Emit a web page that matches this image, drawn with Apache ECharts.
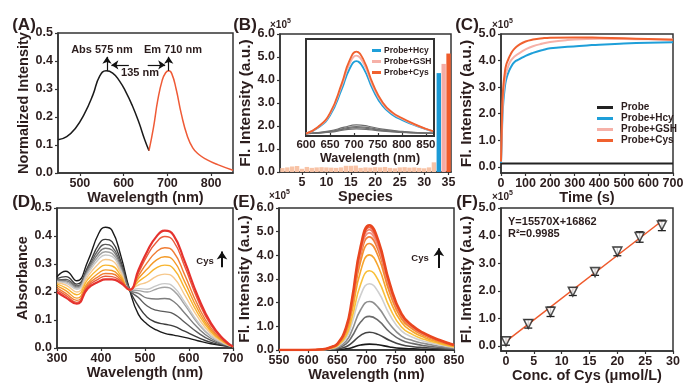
<!DOCTYPE html>
<html><head><meta charset="utf-8">
<script src="https://cdn.jsdelivr.net/npm/echarts@6.0.0/dist/echarts.min.js"></script>
<style>html,body{margin:0;padding:0;background:#fff}#c{width:700px;height:387px}</style>
</head><body><div id="c"></div>
<script>
// ---------- Panel A: normalized absorption / emission ----------
const absWl  = [450,470,490,510,530,545,560,575,590,605,620,635,648,658];
const absVal = [0.119,0.13,0.16,0.21,0.28,0.345,0.365,0.357,0.33,0.29,0.24,0.18,0.12,0.08];
const emWl   = [658,668,678,688,696,703,710,720,732,745,758,772,790,815,850];
const emVal  = [0.08,0.16,0.26,0.33,0.358,0.365,0.355,0.3,0.21,0.135,0.09,0.066,0.048,0.03,0.01];
const aTicksX = [500,600,700,800];
const aTicksY = [0,0.1,0.2,0.3,0.4,0.5];

// ---------- Panel B: selectivity bars ----------
const speciesLabels = Array.from({length:35},(_,i)=>String(i+1));
const speciesVals = [0.17,0.2,0.24,0.26,0.14,0.22,0.18,0.2,0.21,0.2,0.19,0.18,0.2,0.27,0.27,0.28,0.18,0.2,0.19,0.21,0.2,0.22,0.18,0.16,0.2,0.21,0.19,0.2,0.18,0.16,0.2,0.42,4.3,4.7,5.15];
const bTicksY = [0,1,2,3,4,5,6];
// inset spectra
const insetWl  = [600,625,650,675,690,705,720,740,760,780,800,825,850,865];
const insetHcy = [0,0.37,1.15,2.85,4.05,4.6,4.14,2.76,1.75,1.2,0.87,0.55,0.28,0.14];
const insetGSH = [0,0.4,1.24,3.07,4.36,4.95,4.46,2.97,1.88,1.29,0.94,0.59,0.3,0.15];
const insetCys = [0,0.42,1.3,3.22,4.58,5.2,4.68,3.12,1.98,1.35,0.99,0.62,0.31,0.16];
const insetGrayWl = [600,650,680,705,730,760,800,850,865];
const insetGray1 = [0,0.17,0.41,0.55,0.47,0.28,0.14,0.04,0.03];
const insetGray2 = [0,0.14,0.34,0.45,0.38,0.23,0.11,0.04,0.02];
const insetGray3 = [0,0.11,0.29,0.38,0.32,0.19,0.1,0.03,0.02];
const insetGray4 = [0,0.09,0.23,0.3,0.26,0.15,0.08,0.02,0.02];
const insetTicksX = [600,650,700,750,800,850];

// ---------- Panel C: kinetics ----------
const tProbe = [0,100,200,300,400,500,600,700];
const vProbe = [0.13,0.13,0.13,0.13,0.13,0.13,0.13,0.13];
const tCys = [0,3,6,10,15,20,30,40,55,75,100,130,170,200,300,400,500,600,700];
const vCys = [0.2,1.5,2.5,3.1,3.5,3.8,4.05,4.25,4.45,4.6,4.72,4.79,4.84,4.86,4.87,4.86,4.84,4.81,4.78];
const tGSH = [0,3,6,10,15,20,30,40,55,75,100,130,170,200,270,350,400,500,600,700];
const vGSH = [0.2,1.2,2.1,2.8,3.2,3.5,3.8,4.0,4.15,4.28,4.42,4.54,4.64,4.7,4.77,4.81,4.82,4.81,4.8,4.79];
const tHcy = [0,3,6,10,15,20,30,40,55,75,100,130,170,200,270,350,400,500,600,700];
const vHcy = [0.15,1.0,1.9,2.5,2.95,3.25,3.55,3.75,3.95,4.05,4.18,4.29,4.4,4.46,4.52,4.57,4.6,4.64,4.67,4.69];
const cTicksX = [0,100,200,300,400,500,600,700];
const cTicksY = [0,1,2,3,4,5];

// ---------- Panel D: absorption titration ----------
const dWl = [300,320,345,370,395,410,425,445,465,485,505,525,545,565,590,620,650,680,700];
const dAbsorbance = [
 [0.254,0.274,0.24,0.31,0.41,0.431,0.42,0.33,0.208,0.12,0.085,0.065,0.052,0.046,0.038,0.026,0.015,0.008,0.005],
 [0.248,0.255,0.228,0.29,0.37,0.388,0.38,0.31,0.208,0.15,0.11,0.092,0.085,0.078,0.06,0.038,0.02,0.009,0.005],
 [0.243,0.245,0.222,0.283,0.353,0.37,0.362,0.3,0.208,0.18,0.15,0.135,0.13,0.122,0.092,0.055,0.027,0.011,0.005],
 [0.24,0.24,0.218,0.278,0.34,0.356,0.35,0.29,0.208,0.195,0.178,0.175,0.177,0.166,0.125,0.072,0.034,0.013,0.005],
 [0.238,0.236,0.214,0.272,0.329,0.344,0.338,0.283,0.208,0.205,0.2,0.21,0.217,0.205,0.155,0.088,0.041,0.015,0.005],
 [0.236,0.232,0.21,0.266,0.318,0.332,0.327,0.277,0.208,0.212,0.21,0.222,0.23,0.218,0.165,0.094,0.044,0.016,0.005],
 [0.232,0.225,0.2,0.256,0.302,0.316,0.312,0.268,0.208,0.225,0.235,0.255,0.264,0.252,0.19,0.11,0.051,0.018,0.005],
 [0.228,0.215,0.19,0.245,0.284,0.296,0.293,0.258,0.208,0.237,0.26,0.285,0.296,0.283,0.214,0.124,0.058,0.02,0.005],
 [0.222,0.205,0.178,0.233,0.268,0.279,0.277,0.25,0.208,0.248,0.282,0.313,0.326,0.312,0.237,0.138,0.064,0.022,0.005],
 [0.215,0.195,0.17,0.226,0.256,0.266,0.265,0.244,0.208,0.258,0.305,0.342,0.358,0.343,0.262,0.153,0.071,0.024,0.005],
 [0.208,0.188,0.163,0.22,0.247,0.256,0.255,0.238,0.208,0.268,0.33,0.376,0.398,0.381,0.292,0.172,0.081,0.027,0.005],
 [0.2,0.18,0.158,0.213,0.237,0.245,0.245,0.232,0.208,0.278,0.345,0.396,0.419,0.402,0.31,0.185,0.088,0.029,0.005]
];
const dTicksX = [300,400,500,600,700];
const dTicksY = [0,0.1,0.2,0.3,0.4,0.5];

// ---------- Panel E: fluorescence titration ----------
const eWl = [550,600,625,640,650,665,675,690,705,720,740,760,780,800,825,850];
const eIntensity = [
 [0,0,0,0.01,0.01,0.05,0.1,0.21,0.25,0.22,0.13,0.07,0.05,0.03,0.02,0.01],
 [0,0,0,0.02,0.04,0.14,0.3,0.62,0.75,0.66,0.4,0.22,0.14,0.1,0.06,0.03],
 [0,0,0.01,0.04,0.07,0.26,0.57,1.18,1.42,1.25,0.75,0.41,0.27,0.18,0.11,0.06],
 [0,0,0.01,0.05,0.1,0.37,0.82,1.7,2.05,1.8,1.09,0.59,0.39,0.27,0.16,0.08],
 [0,0,0.01,0.07,0.14,0.5,1.12,2.32,2.8,2.46,1.48,0.81,0.53,0.36,0.22,0.11],
 [0,0,0.02,0.08,0.17,0.6,1.34,2.78,3.35,2.95,1.78,0.97,0.64,0.44,0.27,0.13],
 [0,0,0.02,0.1,0.2,0.72,1.61,3.34,4.02,3.54,2.13,1.17,0.76,0.52,0.32,0.16],
 [0,0,0.02,0.11,0.23,0.81,1.8,3.74,4.5,3.96,2.39,1.31,0.86,0.59,0.36,0.18],
 [0,0,0.02,0.12,0.24,0.86,1.91,3.97,4.78,4.21,2.53,1.39,0.91,0.62,0.38,0.19],
 [0,0,0.02,0.12,0.25,0.89,1.98,4.11,4.95,4.36,2.62,1.44,0.94,0.64,0.4,0.2],
 [0,0,0.03,0.13,0.25,0.91,2.03,4.22,5.08,4.47,2.69,1.47,0.97,0.66,0.41,0.2],
 [0,0,0.03,0.13,0.26,0.93,2.07,4.3,5.18,4.56,2.75,1.5,0.98,0.67,0.41,0.21],
 [0,0,0.03,0.13,0.26,0.95,2.11,4.37,5.27,4.64,2.79,1.53,1,0.69,0.42,0.21]
];
const eTicksX = [550,600,650,700,750,800,850];
const eTicksY = [0,1,2,3,4,5,6];

// ---------- Panel F: linear calibration ----------
const fConc = [0,4,8,12,16,20,24,28];
const fVal  = [0.17,0.8,1.24,1.97,2.68,3.42,3.95,4.37];
const fErr  = [0.14,0.15,0.17,0.14,0.12,0.15,0.19,0.19];
const fitX  = [0,28];
const fitY  = [0.169,4.528];
const fTicksX = [0,5,10,15,20,25,30];
const fTicksY = [0,1,2,3,4,5];

// ---------- styling ----------
const FONT = '"Liberation Sans", Arial, sans-serif';
const TXT = '#2b1d1d';
const AX = '#333';
const zip = (xs, ys) => xs.map((x, i) => [x, ys[i]]);
const f1 = v => v.toFixed(1);
const fi = v => String(Math.round(v));

function axis(o) {
  return {
    type: 'value', gridIndex: o.g, min: o.min, max: o.max,
    name: o.name || '', nameLocation: 'middle', nameGap: o.gap || 0,
    nameTextStyle: {fontFamily: FONT, fontWeight: 'bold', fontSize: o.nfs || 14.5, color: TXT},
    axisLine: {show: true, onZero: false, lineStyle: {color: AX, width: 1.5}},
    axisTick: {show: o.tick !== false, inside: !!o.inside, length: 3, customValues: o.ticks, lineStyle: {color: AX, width: 1.2}},
    axisLabel: {show: o.labels !== false, customValues: o.ticks, margin: o.margin == null ? 4 : o.margin,
      fontFamily: FONT, fontWeight: 'bold', fontSize: o.fs || 12.5, color: TXT, formatter: o.fmt},
    splitLine: {show: false}
  };
}

const gridBox = (l, t, w, h, bw) => ({left: l, top: t, width: w, height: h, show: true, borderColor: '#333',
  borderWidth: bw || 1.5, backgroundColor: '#fff', containLabel: false, outerBoundsMode: 'none'});

const grids = [
  gridBox(58, 33, 175, 140),
  gridBox(280, 34, 171, 138),
  gridBox(501, 34, 172, 139),
  gridBox(57, 208, 176, 140),
  gridBox(279, 208, 175, 142),
  gridBox(501, 208, 172, 143),
  gridBox(306, 39, 128, 97, 2)
];

const xAxes = [
  axis({g:0, min:450, max:850, ticks:aTicksX, fmt:fi, name:'Wavelength (nm)', gap:13}),
  {type:'category', gridIndex:1, data:speciesLabels, boundaryGap:true, name:'Species', nameLocation:'middle', nameGap:15,
    nameTextStyle:{fontFamily:FONT, fontWeight:'bold', fontSize:14.5, color:TXT},
    axisLine:{show:true, onZero:false, lineStyle:{color:AX, width:1.5}},
    axisTick:{show:true, alignWithLabel:true, length:3, interval:(i, v) => (+v) % 5 === 0, lineStyle:{color:AX, width:1.2}},
    axisLabel:{interval:(i, v) => (+v) % 5 === 0, margin:4, fontFamily:FONT, fontWeight:'bold', fontSize:12.5, color:TXT},
    splitLine:{show:false}},
  axis({g:2, min:0, max:700, ticks:cTicksX, fmt:fi, name:'Time (s)', gap:13}),
  axis({g:3, min:300, max:700, ticks:dTicksX, fmt:fi, name:'Wavelength (nm)', gap:15}),
  axis({g:4, min:550, max:850, ticks:eTicksX, fmt:fi, name:'Wavelength (nm)', gap:13}),
  axis({g:5, min:-0.9, max:30, ticks:fTicksX, fmt:fi, name:'Conc. of Cys (μmol/L)', gap:13}),
  axis({g:6, min:600, max:867, ticks:insetTicksX, fmt:fi, name:'Wavelength (nm)', gap:14, nfs:12.5, fs:11.5, margin:3, inside:true})
];
const yAxes = [
  axis({g:0, min:0, max:0.5, ticks:aTicksY, fmt:f1, name:'Normalized Intensity', gap:25, margin:5}),
  axis({g:1, min:0, max:6, ticks:bTicksY, fmt:f1, name:'Fl. Intensity (a.u.)', gap:25, nfs:15.5, margin:5}),
  axis({g:2, min:-0.23, max:5, ticks:cTicksY, fmt:f1, name:'Fl. Intensity (a.u.)', gap:25, nfs:15.5, margin:5}),
  axis({g:3, min:0, max:0.5, ticks:dTicksY, fmt:f1, name:'Absorbance', gap:24, margin:5}),
  axis({g:4, min:0, max:6, ticks:eTicksY, fmt:f1, name:'Fl. Intensity (a.u.)', gap:24, nfs:15.5, margin:5}),
  axis({g:5, min:-0.18, max:5, ticks:fTicksY, fmt:f1, name:'Fl. Intensity (a.u.)', gap:25, nfs:15.5, margin:5}),
  axis({g:6, min:-0.15, max:6, ticks:[], labels:false, tick:false})
];

const line = (xi, data, color, width, extra) => Object.assign({
  type:'line', xAxisIndex:xi, yAxisIndex:xi, data, showSymbol:false, symbol:'none',
  smooth:0.5, lineStyle:{color, width}, itemStyle:{color}, z:3
}, extra || {});

const arrowStyle = {silent:true, symbol:['none','arrow'], symbolSize:7, label:{show:false},
  lineStyle:{color:'#111', width:1.2, type:'solid'}, emphasis:{disabled:true}};

const series = [];
// A
series.push(line(0, zip(absWl, absVal), '#1a1a1a', 1.5, {markLine: Object.assign({}, arrowStyle, {data: [
  [{coord:[562,0.365]},{coord:[562,0.415]}],
  [{coord:[703,0.365]},{coord:[703,0.415]}],
  [{coord:[612,0.386]},{coord:[572,0.386]}],
  [{coord:[655,0.386]},{coord:[695,0.386]}]
]})}));
series.push(line(0, zip(emWl, emVal), '#ef5a36', 1.5));
// B bars
const barColor = i => i < 32 ? '#f8c3a6' : (i === 32 ? '#1b9ad6' : (i === 33 ? '#f5aca5' : '#ef5b2b'));
series.push({type:'bar', xAxisIndex:1, yAxisIndex:1, barCategoryGap:'10%',
  data: speciesVals.map((v, i) => ({value:v, itemStyle:{color:barColor(i)}}))});
// C kinetics
series.push(line(2, zip(tProbe, vProbe), '#222', 2, {name:'Probe'}));
series.push(line(2, zip(tHcy, vHcy), '#1e9fd9', 2, {name:'Probe+Hcy'}));
series.push(line(2, zip(tGSH, vGSH), '#f6b1a8', 2, {name:'Probe+GSH'}));
series.push(line(2, zip(tCys, vCys), '#f0612f', 2, {name:'Probe+Cys'}));
// D
const dColors = ['#1a1a1a','#3c3c3c','#5c5c5c','#7d7d7d','#a3a3a3','#c8c8c8','#f6c88c','#f8b52e','#f49a26','#f07c33','#eb5b3b','#e5322e'];
dAbsorbance.forEach((arr, i) => series.push(line(3, zip(dWl, arr), dColors[i], i === dAbsorbance.length - 1 ? 2.2 : 1.4)));
series[series.length - 1].markLine = Object.assign({}, arrowStyle, {symbolSize:8, lineStyle:{color:'#111', width:2, type:'solid'},
  data:[[{coord:[675,0.288]},{coord:[675,0.345]}]]});
// E
const eColors = ['#1a1a1a','#444444','#6a6a6a','#8e8e8e','#cfcfcf','#f9c03a','#f6a52c','#f48f31','#f27c38','#f29080','#ee7a62','#ec6448','#e9461f'];
eIntensity.forEach((arr, i) => series.push(line(4, zip(eWl, arr), eColors[i], i === eIntensity.length - 1 ? 2.6 : 1.6)));
series[series.length - 1].markLine = Object.assign({}, arrowStyle, {symbolSize:8, lineStyle:{color:'#111', width:2, type:'solid'},
  data:[[{coord:[824,3.46]},{coord:[824,4.3]}]]});
// F
series.push(line(5, zip(fitX, fitY), '#ef5a2c', 1.5, {smooth:false}));
series.push({type:'custom', xAxisIndex:5, yAxisIndex:5, z:4,
  data: fConc.map((c, i) => [c, fVal[i] - fErr[i], fVal[i] + fErr[i]]),
  encode:{x:0, y:[1,2]},
  renderItem: (params, api) => {
    const x = api.value(0), p1 = api.coord([x, api.value(1)]), p2 = api.coord([x, api.value(2)]);
    const w = 4, st = {stroke:'#222', lineWidth:1.3};
    return {type:'group', children:[
      {type:'line', shape:{x1:p1[0], y1:p1[1], x2:p2[0], y2:p2[1]}, style:st},
      {type:'line', shape:{x1:p1[0]-w, y1:p1[1], x2:p1[0]+w, y2:p1[1]}, style:st},
      {type:'line', shape:{x1:p2[0]-w, y1:p2[1], x2:p2[0]+w, y2:p2[1]}, style:st}
    ]};
  }});
series.push({type:'scatter', xAxisIndex:5, yAxisIndex:5, z:5, data: zip(fConc, fVal),
  symbol:'triangle', symbolRotate:180, symbolSize:9,
  itemStyle:{color:'#fff', borderColor:'#222', borderWidth:1.5}});
// inset
[insetGray1, insetGray2, insetGray3, insetGray4].forEach(a => series.push(line(6, zip(insetGrayWl, a), '#6e6e6e', 1.2)));
series.push(line(6, zip(insetWl, insetHcy), '#1e9fd9', 1.8, {name:'Probe+Hcy'}));
series.push(line(6, zip(insetWl, insetGSH), '#f6b1a8', 1.8, {name:'Probe+GSH'}));
series.push(line(6, zip(insetWl, insetCys), '#f0612f', 1.8, {name:'Probe+Cys'}));

const T = (x, y, text, size, align, extra) => ({type:'text', x, y, z:100, style:Object.assign({
  text, font:'bold ' + size + 'px ' + FONT, fill:TXT, align:align || 'center', verticalAlign:'middle'}, extra || {})});

const graphic = [
  T(24, 25, '(A)', 17), T(245, 25, '(B)', 17), T(467, 25, '(C)', 17),
  T(24, 202, '(D)', 17), T(244, 202, '(E)', 17), T(467, 202, '(F)', 17),
  T(270, 25, '×10', 10, 'left'), T(287, 21, '5', 7, 'left'),
  T(492, 25, '×10', 10, 'left'), T(509, 21, '5', 7, 'left'),
  T(269, 196, '×10', 10, 'left'), T(286, 192, '5', 7, 'left'),
  T(492, 197, '×10', 10, 'left'), T(509, 193, '5', 7, 'left'),
  T(102, 50, 'Abs 575 nm', 11), T(173, 50, 'Em 710 nm', 11), T(140, 73, '135 nm', 11),
  T(205, 261, 'Cys', 9.5), T(420, 258, 'Cys', 9.5),
  T(508, 222, 'Y=15570X+16862', 11, 'left'), T(508, 234, 'R²=0.9985', 11, 'left')
];

const legends = [
  {left:592, top:97, orient:'vertical', icon:'rect', itemWidth:16, itemHeight:3, itemGap:0,
   data:['Probe','Probe+Hcy','Probe+GSH','Probe+Cys'], selectedMode:false,
   textStyle:{fontFamily:FONT, fontWeight:'bold', fontSize:10, color:TXT, lineHeight:11, padding:[0,0,0,3]}},
  {left:367, top:40, orient:'vertical', icon:'rect', itemWidth:9, itemHeight:3, itemGap:0,
   data:['Probe+Hcy','Probe+GSH','Probe+Cys'], selectedMode:false,
   textStyle:{fontFamily:FONT, fontWeight:'bold', fontSize:8.5, color:TXT, lineHeight:11, padding:[0,0,0,-2]}}
];

const chart = echarts.init(document.getElementById('c'), null, {renderer:'canvas'});
chart.setOption({animation:false, backgroundColor:'#fff', grid:grids, xAxis:xAxes, yAxis:yAxes,
  series, graphic, legend:legends, tooltip:{show:false}});
</script></body></html>
